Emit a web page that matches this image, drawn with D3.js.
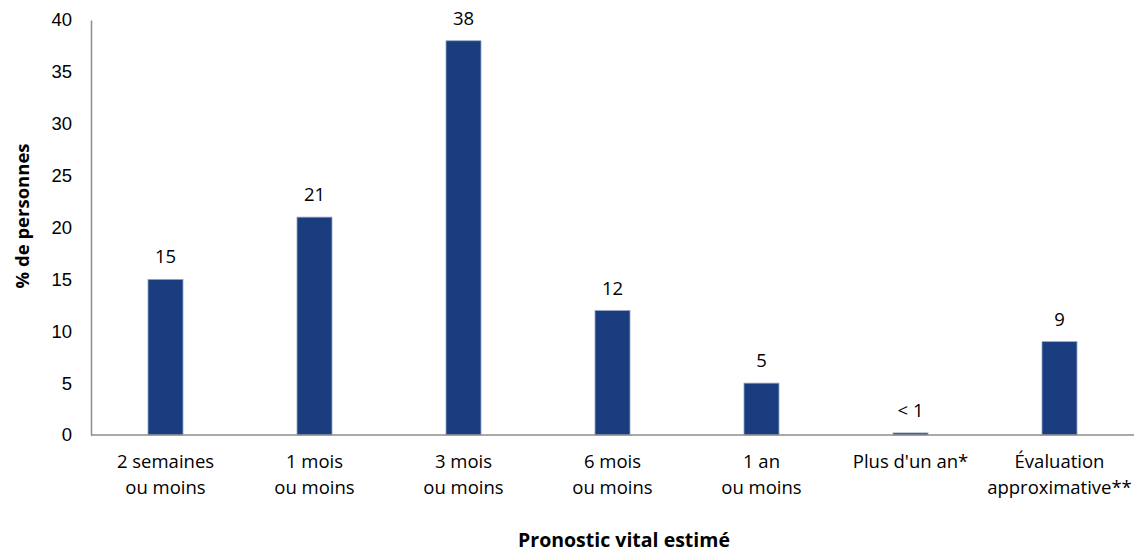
<!DOCTYPE html>
<html>
<head>
<meta charset="utf-8">
<script src="https://cdn.jsdelivr.net/npm/d3@7"></script>
<style>
  html, body { margin: 0; padding: 0; background: #fff; }
  svg { display: block; font-family: "Open Sans", sans-serif; }
</style>
</head>
<body>
<svg id="chart" width="1135" height="553"></svg>
<script>
// Estimated life expectancy categories (two-line labels)
const categories = [
  ["2 semaines", "ou moins"],
  ["1 mois", "ou moins"],
  ["3 mois", "ou moins"],
  ["6 mois", "ou moins"],
  ["1 an", "ou moins"],
  ["Plus d'un an*"],
  ["Évaluation", "approximative**"]
];
const values = [15, 21, 38, 12, 5, 0.2, 9];
const valueLabels = ["15", "21", "38", "12", "5", "< 1", "9"];
const yTicks = [0, 5, 10, 15, 20, 25, 30, 35, 40];

const svg = d3.select("#chart");
const margin = { left: 91, right: 1, top: 20, bottom: 118 };
const W = 1135, H = 553;
const FS = 18.5;

const x = d3.scaleBand()
  .domain(d3.range(categories.length))
  .range([margin.left, W - margin.right])
  .paddingInner(0.765)
  .paddingOuter(0.3825);

const y = d3.scaleLinear()
  .domain([0, 40])
  .range([H - margin.bottom, margin.top]);

// Y axis
const yAxis = svg.append("g")
  .attr("transform", `translate(${margin.left},0)`)
  .call(d3.axisLeft(y).tickValues(yTicks).tickSize(0).tickPadding(19));
yAxis.select(".domain").attr("stroke", "#8c8c8c").attr("stroke-width", 1.5);
yAxis.selectAll("text").attr("font-size", FS).attr("fill", "#000");

// Bars
svg.append("g").selectAll("rect")
  .data(values)
  .join("rect")
  .attr("x", (d, i) => x(i))
  .attr("y", d => y(d))
  .attr("width", x.bandwidth())
  .attr("height", d => y(0) - y(d))
  .attr("fill", "#1a3d7f")
  .attr("stroke", "#9aa7c6")
  .attr("stroke-width", 0.8);

// Baseline
svg.append("line")
  .attr("x1", margin.left).attr("x2", W - margin.right)
  .attr("y1", y(0)).attr("y2", y(0))
  .attr("stroke", "#8c8c8c").attr("stroke-width", 1.5);

// Value labels
svg.append("g").selectAll("text")
  .data(values)
  .join("text")
  .attr("x", (d, i) => x(i) + x.bandwidth() / 2)
  .attr("y", d => y(d) - 16)
  .attr("text-anchor", "middle")
  .attr("font-size", FS)
  .attr("fill", "#000")
  .text((d, i) => valueLabels[i]);

// Category labels
const cat = svg.append("g").selectAll("text")
  .data(categories)
  .join("text")
  .attr("x", (d, i) => x(i) + x.bandwidth() / 2)
  .attr("y", 468)
  .attr("text-anchor", "middle")
  .attr("font-size", FS)
  .attr("fill", "#000");
cat.selectAll("tspan")
  .data(d => d)
  .join("tspan")
  .attr("x", function () { return this.parentNode.getAttribute("x"); })
  .attr("dy", (d, j) => j === 0 ? 0 : 26)
  .text(d => d);

// Axis titles
svg.append("text")
  .attr("x", 624).attr("y", 547)
  .attr("text-anchor", "middle")
  .attr("font-size", 19.5).attr("font-weight", "bold")
  .text("Pronostic vital estimé");

svg.append("text")
  .attr("transform", `translate(29,216) rotate(-90)`)
  .attr("text-anchor", "middle")
  .attr("font-size", 18.5).attr("font-weight", "bold")
  .text("% de personnes");
</script>
</body>
</html>
